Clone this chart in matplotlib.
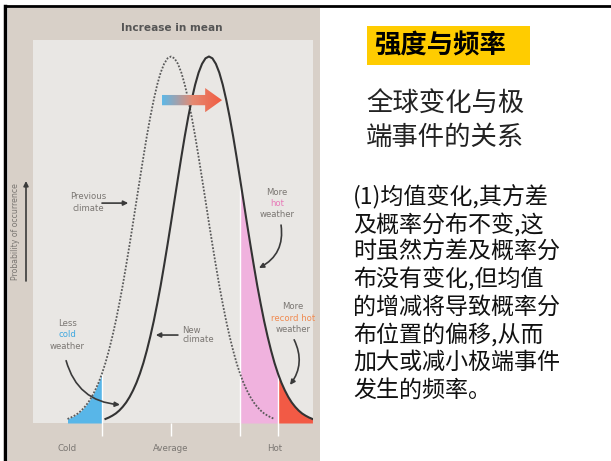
import numpy as np
import matplotlib
matplotlib.use('Agg')
import matplotlib.pyplot as plt
from matplotlib.patches import Rectangle, Polygon
from matplotlib.lines import Line2D
from matplotlib.colors import LinearSegmentedColormap

# curve shape: height (peak = 1) every 0.1 sd from the mean
offsets = np.round(np.arange(-3.0, 3.01, 0.1), 1)
heights = [0.011, 0.015, 0.020, 0.026, 0.034, 0.044, 0.056, 0.071, 0.089, 0.110,
           0.135, 0.164, 0.198, 0.236, 0.278, 0.325, 0.375, 0.430, 0.487, 0.546,
           0.607, 0.667, 0.726, 0.783, 0.835, 0.882, 0.923, 0.956, 0.980, 0.995,
           1.000,
           0.995, 0.980, 0.956, 0.923, 0.882, 0.835, 0.783, 0.726, 0.667, 0.607,
           0.546, 0.487, 0.430, 0.375, 0.325, 0.278, 0.236, 0.198, 0.164, 0.135,
           0.110, 0.089, 0.071, 0.056, 0.044, 0.034, 0.026, 0.020, 0.015, 0.011]
heights = np.array(heights)

prev_mean = 0.0
new_mean = 1.1
cold_range = (-3.0, -2.0)     # on previous climate
hot_range = (2.0, 3.1)        # on new climate
record_range = (3.1, 4.1)     # on new climate

tick_pos = [-3, 0, 3]
tick_labels = ['Cold', 'Average', 'Hot']

W, H = 611, 461
fig = plt.figure(figsize=(W / 100, H / 100), dpi=100)
fig.patch.set_facecolor('white')

def fx(px):
    return px / W

def fy(py):
    return 1 - py / H

small = ['Liberation Sans Narrow', 'DejaVu Sans']
grey = '#7a7672'

# scanned background + slide frame lines
fig.patches.append(Rectangle((fx(8), 0), fx(312), 1 - 8 / H, transform=fig.transFigure,
                             facecolor='#d8d0c8', edgecolor='none', zorder=-1))
fig.lines.append(Line2D([fx(5), 1], [fy(6), fy(6)], transform=fig.transFigure,
                        color='black', lw=2))
fig.lines.append(Line2D([fx(5), fx(5)], [fy(6), 0], transform=fig.transFigure,
                        color='black', lw=2.5))

ax = fig.add_axes([fx(33), 38 / H, fx(280), 383 / H])
ax.set_facecolor('#e9e7e4')
for s in ax.spines.values():
    s.set_visible(False)

x_prev = np.round(offsets + prev_mean, 1)
x_new = np.round(offsets + new_mean, 1)
eps = 1e-9

m = (x_prev >= cold_range[0] - eps) & (x_prev <= cold_range[1] + eps)
ax.fill_between(x_prev[m], 0, heights[m], color='#58b6e8', lw=0, zorder=2)
m = (x_new >= hot_range[0] - eps) & (x_new <= hot_range[1] + eps)
ax.fill_between(x_new[m], 0, heights[m], color='#f0b2de', lw=0, zorder=2)
m = (x_new >= record_range[0] - eps) & (x_new <= record_range[1] + eps)
ax.fill_between(x_new[m], 0, heights[m], color='#f25a45', lw=0, zorder=2)

# white edges of the shaded tails
edge_x = [cold_range[1], hot_range[0], record_range[0], 0.0]
edge_top = [heights[np.argmin(abs(x_prev - cold_range[1]))],
            heights[np.argmin(abs(x_new - hot_range[0]))],
            heights[np.argmin(abs(x_new - record_range[0]))], 0.0]
ax.vlines(edge_x, -0.035, edge_top, colors='white', lw=1, clip_on=False, zorder=2.5)

ax.plot(x_prev, heights, color='#5a5a5a', lw=1.3, ls=(0, (1, 0.9)), zorder=4)
ax.plot(x_new, heights, color='#333333', lw=1.5, zorder=4)

# gradient arrow for the shift in mean
x0, x1, hx, yc, b, h = -0.26, 1.48, 0.99, 0.881, 0.014, 0.033
poly = Polygon([(x0, yc - b), (hx, yc - b), (hx, yc - h), (x1, yc), (hx, yc + h),
                (hx, yc + b), (x0, yc + b)], closed=True, facecolor='none',
               edgecolor='none')
ax.add_patch(poly)
cmap = LinearSegmentedColormap.from_list('shift', ['#5cb8e8', '#e58a72', '#f25a40'])
im = ax.imshow(np.linspace(0, 1, 256).reshape(1, -1), cmap=cmap,
               extent=[x0, x1, yc - h, yc + h], aspect='auto', zorder=5)
im.set_clip_path(poly)

ax.set_xlim(-4.0, 4.116)
ax.set_ylim(0, 1.045)
ax.set_yticks([])
ax.set_xticks(tick_pos)
ax.set_xticklabels(tick_labels, fontfamily=small, fontsize=6.2, color=grey)
ax.tick_params(axis='x', length=0, pad=15)

arrow = dict(arrowstyle='-|>', color='#3a3a3a', lw=1.2, mutation_scale=7,
             shrinkA=0, shrinkB=0)

def label(x, y, lines, colors):
    for i, (t, c) in enumerate(zip(lines, colors)):
        ax.text(x, y - i * 0.031, t, ha='center', va='center', fontsize=6.1,
                fontfamily=small, color=c, zorder=6)

label(-2.4, 0.617, ['Previous'], [grey])
label(-2.4, 0.586, ['climate'], [grey])
ax.annotate('', xy=(-1.24, 0.60), xytext=(-2.0, 0.60), arrowprops=arrow)

label(3.07, 0.63, ['More', 'hot', 'weather'], [grey, '#e87ab8', grey])
ax.annotate('', xy=(2.55, 0.423), xytext=(3.19, 0.54),
            arrowprops=dict(arrow, connectionstyle='arc3,rad=-0.35'))

label(-3.0, 0.272, ['Less', 'cold', 'weather'], [grey, '#3fa8e0', grey])
ax.annotate('', xy=(-1.48, 0.05), xytext=(-3.04, 0.17),
            arrowprops=dict(arrow, connectionstyle='arc3,rad=0.35'))

ax.text(0.33, 0.24, 'New\nclimate', ha='left', va='center', fontsize=6.1,
        fontfamily=small, color=grey, linespacing=0.95, zorder=6)
ax.annotate('', xy=(-0.44, 0.24), xytext=(0.2, 0.24), arrowprops=arrow)

label(3.54, 0.317, ['More', 'record hot', 'weather'], [grey, '#f08a50', grey])
ax.annotate('', xy=(3.45, 0.104), xytext=(3.57, 0.227),
            arrowprops=dict(arrow, connectionstyle='arc3,rad=-0.3'))

# y-axis label and arrow outside the panel
fig.text(fx(16), fy(232), 'Probability of occurrence', rotation=90, ha='center',
         va='center', fontsize=5.6, fontfamily=small, color=grey)
ax.annotate('', xy=(26, H - 181), xytext=(26, H - 281), xycoords='figure pixels',
            textcoords='figure pixels',
            arrowprops=dict(arrowstyle='-|>', color='#3a3a3a', lw=1.2,
                            mutation_scale=7, shrinkA=0, shrinkB=0))
fig.text(fx(172), fy(28), 'Increase in mean', ha='center', va='center', fontsize=7.6,
         fontweight='bold', fontfamily=small, color='#555555')

# right-hand slide text
cjk = ['Noto Sans CJK SC', 'DejaVu Sans']
fig.patches.append(Rectangle((fx(367), fy(65)), fx(163), 39 / H, transform=fig.transFigure,
                             facecolor='#ffcc00', edgecolor='none'))
fig.text(fx(374), fy(46), '强度与频率', ha='left', va='center', fontsize=19,
         fontweight='bold', fontfamily=cjk, color='black')
fig.text(fx(366), fy(104), '全球变化与极', ha='left', va='center', fontsize=19,
         fontfamily=cjk, color='#222222')
fig.text(fx(366), fy(137), '端事件的关系', ha='left', va='center', fontsize=19,
         fontfamily=cjk, color='#222222')

body = ['(1)均值变化,其方差', '及概率分布不变,这', '时虽然方差及概率分',
        '布没有变化,但均值', '的增减将导致概率分', '布位置的偏移,从而',
        '加大或减小极端事件', '发生的频率。']
for i, line in enumerate(body):
    fig.text(fx(353), fy(197 + i * 27.6), line, ha='left', va='center', fontsize=16.6,
             fontfamily=cjk, color='#111111')

fig.savefig('out.png', dpi=100)
